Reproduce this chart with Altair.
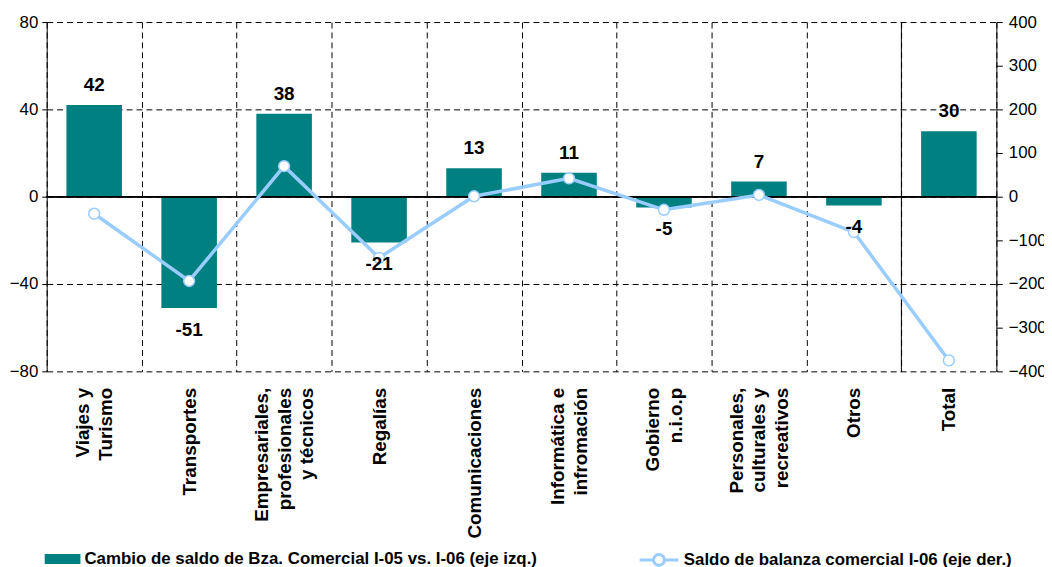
import altair as alt
import pandas as pd

categories = [
    "Viajes y\nTurismo",
    "Transportes",
    "Empresariales,\nprofesionales\ny técnicos",
    "Regalías",
    "Comunicaciones",
    "Informática e\ninfromación",
    "Gobierno\nn.i.o.p",
    "Personales,\nculturales y\nrecreativos",
    "Otros",
    "Total",
]
cambio = [42, -51, 38, -21, 13, 11, -5, 7, -4, 30]
saldo = [-39, -193, 70, -140, 1, 42, -30, 4, -81, -375]

serie_barras = "Cambio de saldo de Bza. Comercial I-05 vs. I-06 (eje izq.)"
serie_linea = "Saldo de balanza comercial I-06 (eje der.)"

left_ticks = [-80, -40, 0, 40, 80]
right_ticks = [-400, -300, -200, -100, 0, 100, 200, 300, 400]

df = pd.DataFrame({"cat": categories, "cambio": cambio, "saldo": saldo})
df["label"] = df["cambio"].astype(str)
df["s1"] = serie_barras
df["s2"] = serie_linea

TEAL = "#008080"
LBLUE = "#99CCFF"
FONT = "Liberation Sans"
W, H = 957, 352
LH = 23

xs = alt.Scale(paddingInner=0, paddingOuter=0)
x_axis = alt.Axis(
    title=None, labelAngle=270, labelAlign="right", labelBaseline="middle",
    labelFontSize=19, labelFontWeight="bold", labelLineHeight=LH, labelPadding=16,
    labelExpr="split(datum.label, '\\n')", labelColor="black", labelLimit=400,
    labelOffset={
        "condition": [
            {"test": "length(split(datum.label, '\\n')) == 3", "value": -LH},
            {"test": "length(split(datum.label, '\\n')) == 2", "value": -LH / 2},
        ],
        "value": 0,
    },
    domain=False, ticks=False, grid=True, gridDash=[6, 4], gridColor="black",
    gridOpacity=1, gridWidth=1, tickBand="extent",
)
x_main = alt.X("cat:N", sort=categories, scale=xs, axis=x_axis)

ys_left = alt.Scale(domain=[-80, 80], nice=False, zero=False)
y_left_axis = alt.Axis(
    title=None, values=left_ticks, grid=True, gridDash=[6, 4], gridColor="black",
    gridOpacity=1, domainColor="black", tickColor="black", tickSize=5,
    labelFontSize=17, labelColor="black", labelPadding=4,
)
y_hidden_axis = alt.Axis(
    title=None, labels=False, ticks=False, domain=False, grid=False
)

bars = alt.Chart(df).mark_bar(width={"band": 0.585}).encode(
    x=x_main,
    y=alt.Y("cambio:Q", scale=ys_left, axis=y_left_axis),
    fill=alt.Fill(
        "s1:N",
        scale=alt.Scale(domain=[serie_barras], range=[TEAL]),
        legend=alt.Legend(
            title=None, orient="none", legendX=-2, legendY=523, padding=0,
            symbolType="M-1,-0.28H1V0.28H-1Z", symbolSize=1296, symbolStrokeWidth=0,
            labelFontSize=17, labelFontWeight="bold", labelColor="black",
            labelLimit=700, labelOffset=4,
        ),
    ),
)

zero_rule = alt.Chart(df).mark_rule(color="black", strokeWidth=1).encode(
    y=alt.Y(datum=0, scale=ys_left, axis=y_left_axis)
)

total_sep = (
    alt.Chart(df)
    .transform_filter(alt.datum.cat == "Total")
    .mark_rule(color="black", strokeWidth=1)
    .encode(
        x=alt.X("cat:N", sort=categories, scale=xs, axis=x_axis, bandPosition=0),
        y=alt.Y(datum=80, scale=ys_left, axis=y_left_axis),
        y2=alt.Y2(datum=-80),
    )
)

left = alt.layer(bars, zero_rule, total_sep)

ys_right = alt.Scale(domain=[-400, 400], nice=False, zero=False)
y_right_axis = alt.Axis(
    title=None, orient="right", values=right_ticks, grid=False,
    domainColor="black", tickColor="black", tickSize=6,
    labelFontSize=17, labelColor="black", labelPadding=6,
)

line = alt.Chart(df).mark_line(strokeWidth=3.5).encode(
    x=x_main,
    y=alt.Y("saldo:Q", scale=ys_right, axis=y_right_axis),
    stroke=alt.Stroke(
        "s2:N",
        scale=alt.Scale(domain=[serie_linea], range=[LBLUE]),
        legend=alt.Legend(
            title=None, orient="none", legendX=596, legendY=521, padding=0,
            symbolType="M-1,0H-0.28M0.28,0H1M0.28,0A0.28,0.28,0,1,1,-0.28,0A0.28,0.28,0,1,1,0.28,0Z",
            symbolSize=1521, symbolStrokeWidth=3, symbolFillColor="white",
            labelFontSize=17, labelFontWeight="bold", labelColor="black",
            labelLimit=700, labelOffset=4,
        ),
    ),
)
points = alt.Chart(df).mark_point(
    filled=True, fill="white", stroke=LBLUE, strokeWidth=1.5, size=120, opacity=1
).encode(
    x=x_main,
    y=alt.Y("saldo:Q", scale=ys_right, axis=y_right_axis),
)
right = alt.layer(line, points)

lbl_pos = (
    alt.Chart(df)
    .transform_filter(alt.datum.cambio >= 0)
    .mark_text(fontSize=19, fontWeight="bold", color="black", baseline="alphabetic", dy=-14, font=FONT)
    .encode(x=x_main, y=alt.Y("cambio:Q", scale=ys_left, axis=y_hidden_axis), text="label:N")
)
lbl_neg = (
    alt.Chart(df)
    .transform_filter(alt.datum.cambio < 0)
    .mark_text(fontSize=19, fontWeight="bold", color="black", baseline="alphabetic", dy=28, font=FONT)
    .encode(x=x_main, y=alt.Y("cambio:Q", scale=ys_left, axis=y_hidden_axis), text="label:N")
)
labels = alt.layer(lbl_pos, lbl_neg)

chart = (
    alt.layer(left, right, labels)
    .resolve_scale(y="independent")
    .properties(
        width=W, height=H,
        autosize=alt.AutoSizeParams(type="none"),
        padding={"left": 39, "top": 12, "right": 48, "bottom": 195},
    )
    .configure(font=FONT)
    .configure_view(stroke=None)
)

chart.save("out.html", embed_options={"renderer": "svg", "actions": False})
